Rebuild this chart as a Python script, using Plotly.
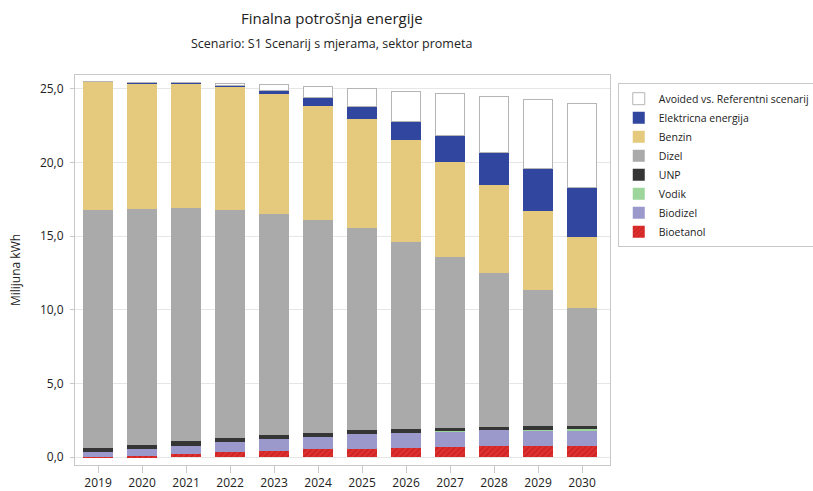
import plotly.graph_objects as go

years = ["2019", "2020", "2021", "2022", "2023", "2024", "2025", "2026", "2027", "2028", "2029", "2030"]

bioetanol = [0.02, 0.05, 0.18, 0.32, 0.43, 0.52, 0.56, 0.63, 0.70, 0.73, 0.75, 0.75]
biodizel = [0.34, 0.50, 0.58, 0.68, 0.77, 0.86, 0.98, 1.02, 1.05, 1.11, 1.07, 1.04]
vodik = [0.0, 0.0, 0.0, 0.0, 0.0, 0.0, 0.0, 0.0, 0.01, 0.02, 0.05, 0.10]
unp = [0.23, 0.27, 0.31, 0.31, 0.31, 0.27, 0.27, 0.27, 0.23, 0.20, 0.22, 0.20]
dizel = [16.19, 16.03, 15.85, 15.47, 15.02, 14.47, 13.77, 12.67, 11.61, 10.47, 9.26, 8.03]
benzin = [8.70, 8.53, 8.42, 8.33, 8.11, 7.75, 7.38, 6.95, 6.46, 5.93, 5.38, 4.81]
elektricna = [0.02, 0.07, 0.07, 0.16, 0.27, 0.57, 0.84, 1.27, 1.75, 2.26, 2.86, 3.39]
avoided = [0.0, 0.0, 0.0, 0.09, 0.41, 0.74, 1.25, 2.05, 2.87, 3.78, 4.71, 5.71]

FONT = "Open Sans, Noto Sans, sans-serif"

fig = go.Figure()

fig.add_trace(go.Bar(
    x=years, y=bioetanol, name="Bioetanol",
    marker=dict(color="#e0302e", line=dict(width=0),
                pattern=dict(shape="/", fgcolor="#a8141a", size=4, solidity=0.35)),
))
fig.add_trace(go.Bar(x=years, y=biodizel, name="Biodizel",
                     marker=dict(color="#9b98cc", line=dict(width=0))))
fig.add_trace(go.Bar(x=years, y=vodik, name="Vodik",
                     marker=dict(color="#9dd69b", line=dict(width=0))))
fig.add_trace(go.Bar(x=years, y=unp, name="UNP",
                     marker=dict(color="#353535", line=dict(width=0))))
fig.add_trace(go.Bar(x=years, y=dizel, name="Dizel",
                     marker=dict(color="#aaaaaa", line=dict(width=0))))
fig.add_trace(go.Bar(x=years, y=benzin, name="Benzin",
                     marker=dict(color="#e5ca7e", line=dict(width=0))))
fig.add_trace(go.Bar(x=years, y=elektricna, name="Elektricna energija",
                     marker=dict(color="#30469f", line=dict(width=0))))
fig.add_trace(go.Bar(x=years, y=avoided, name="Avoided vs. Referentni scenarij",
                     marker=dict(color="#ffffff", line=dict(width=1, color="#b5b5b5"))))

fig.update_layout(
    width=813, height=491,
    barmode="stack", bargap=0.32,
    separators=",.",
    paper_bgcolor="white", plot_bgcolor="white",
    font=dict(family=FONT, size=12, color="#222222"),
    margin=dict(l=75, r=203, t=75, b=26, autoexpand=False),
    showlegend=True,
    legend=dict(
        x=1.0145, y=0.979, xanchor="left", yanchor="top",
        traceorder="reversed",
        bordercolor="#c8c8c8", borderwidth=1,
        font=dict(family=FONT, size=10.5, color="#222222"),
        tracegroupgap=0, itemwidth=30,
        itemclick=False,
    ),
    annotations=[
        dict(text="Finalna potrošnja energije", x=0.48, y=1.146, xref="paper", yref="paper",
             showarrow=False, xanchor="center", yanchor="middle",
             font=dict(family=FONT, size=15, color="#222222")),
        dict(text="Scenario: S1 Scenarij s mjerama, sektor prometa", x=0.48, y=1.082,
             xref="paper", yref="paper", showarrow=False, xanchor="center", yanchor="middle",
             font=dict(family=FONT, size=12.5, color="#222222")),
    ],
)

fig.update_xaxes(
    type="category", range=[-0.523, 11.636],
    showline=True, linecolor="#c8c8c8", linewidth=1, mirror=True,
    ticks="outside", ticklen=7, tickcolor="#c8c8c8",
    showgrid=False, tickfont=dict(size=12),
)
fig.update_yaxes(
    range=[-0.54, 25.95],
    tickvals=[0, 5, 10, 15, 20, 25], tickformat=".1f",
    showline=True, linecolor="#c8c8c8", linewidth=1, mirror=True,
    ticks="outside", ticklen=4, tickcolor="#c8c8c8",
    ticklabelstandoff=4,
    showgrid=True, gridcolor="#e6e6e6", gridwidth=1,
    zeroline=False,
    title=dict(text="Milijuna kWh", standoff=16, font=dict(size=12)),
    tickfont=dict(size=12),
)

fig.write_html("out.html", config={"displayModeBar": False},
               post_script="document.body.style.margin='0';")
